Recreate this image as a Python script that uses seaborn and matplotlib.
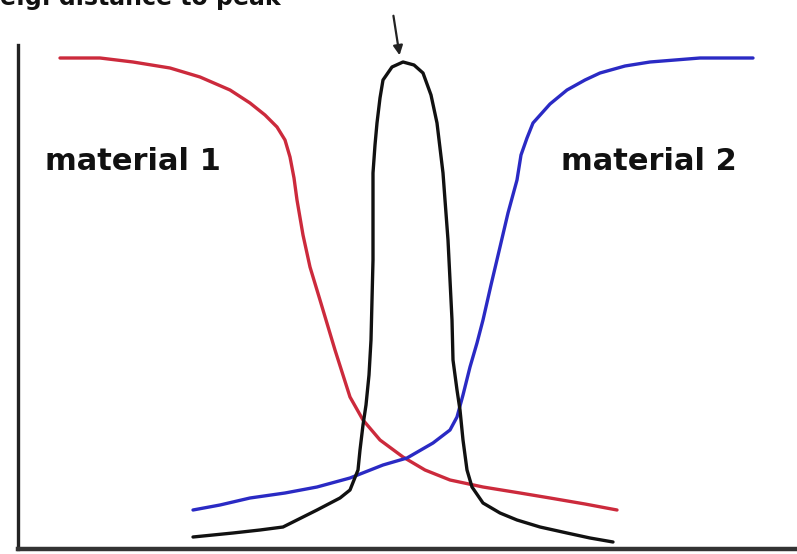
import matplotlib
matplotlib.use("Agg")
import matplotlib.pyplot as plt
import seaborn as sns

# curve read-offs (distance units, signal units)
red_x = [42, 82, 115, 152, 182, 212, 232, 247, 259, 267, 272, 276, 279, 285, 292, 302, 317, 332,
         345, 362, 385, 407, 432, 465, 502, 532, 567, 599]
red_y = [491, 491, 487, 481, 472, 459, 446, 434, 422, 409, 392, 371, 349, 314, 282, 249, 199, 152,
         129, 109, 92, 79, 69, 62, 56, 51, 45, 39]

blue_x = [175, 202, 232, 267, 299, 332, 365, 389, 415, 432, 439, 445, 452, 459, 465, 473, 482, 490,
          499, 503, 509, 515, 532, 549, 567, 582, 607, 632, 682, 735]
blue_y = [39, 44, 51, 56, 62, 71, 84, 91, 106, 119, 132, 154, 182, 206, 229, 264, 302, 336,
          369, 394, 411, 426, 445, 459, 469, 476, 483, 487, 491, 491]

black_x = [175, 215, 242, 265, 299, 322, 332, 340, 342, 345, 348, 351, 353, 354, 355, 355, 355, 357,
           359, 362, 365, 374, 385, 396, 405, 413, 419, 422, 425, 427, 430, 432, 434, 435, 439, 442,
           445, 449, 454, 465, 482, 499, 522, 549, 572, 595]
black_y = [12, 16, 19, 22, 39, 51, 59, 79, 99, 124, 144, 174, 209, 249, 289, 332, 376, 404,
           426, 451, 469, 482, 487, 484, 476, 454, 426, 401, 376, 349, 309, 269, 229, 189, 159, 139,
           109, 79, 62, 46, 36, 29, 22, 16, 11, 7]

labels = ["material 1", "material 2"]
title_text = "e.g. distance to peak"

sns.set_theme(style="white")
plt.rcParams['font.family'] = ['DejaVu Sans']

fig = plt.figure(figsize=(7.97, 5.54), dpi=100)
ax = fig.add_axes([18 / 797, 5 / 554, 779 / 797, 504 / 554])

sns.lineplot(x=red_x, y=red_y, ax=ax, color="#cc2a3c", lw=2.4, sort=False, estimator=None)
sns.lineplot(x=blue_x, y=blue_y, ax=ax, color="#2a2ac4", lw=2.4, sort=False, estimator=None)
sns.lineplot(x=black_x, y=black_y, ax=ax, color="#111111", lw=2.4, sort=False, estimator=None)

ax.set_xlim(0, 779)
ax.set_ylim(0, 504)
ax.set_xticks([])
ax.set_yticks([])
ax.set_xlabel("")
ax.set_ylabel("")
for s in ["top", "right"]:
    ax.spines[s].set_visible(False)
ax.spines["left"].set_linewidth(2.4)
ax.spines["left"].set_color("#222222")
ax.spines["bottom"].set_linewidth(3.2)
ax.spines["bottom"].set_color("#333333")

ax.text(115, 388, labels[0], ha="center", va="center", fontsize=22, fontweight="bold", color="#111111")
ax.text(631, 388, labels[1], ha="center", va="center", fontsize=22, fontweight="bold", color="#111111")

ax.annotate("", xy=(382, 491), xytext=(375, 536), xycoords="data", annotation_clip=False,
            arrowprops=dict(arrowstyle="-|>", color="#222222", lw=1.6, mutation_scale=14))

fig.text(0.0, (554 - 5) / 554, title_text, ha="left", va="baseline", fontsize=17,
         fontweight="bold", color="#111111")

fig.savefig("out.png", dpi=100)
